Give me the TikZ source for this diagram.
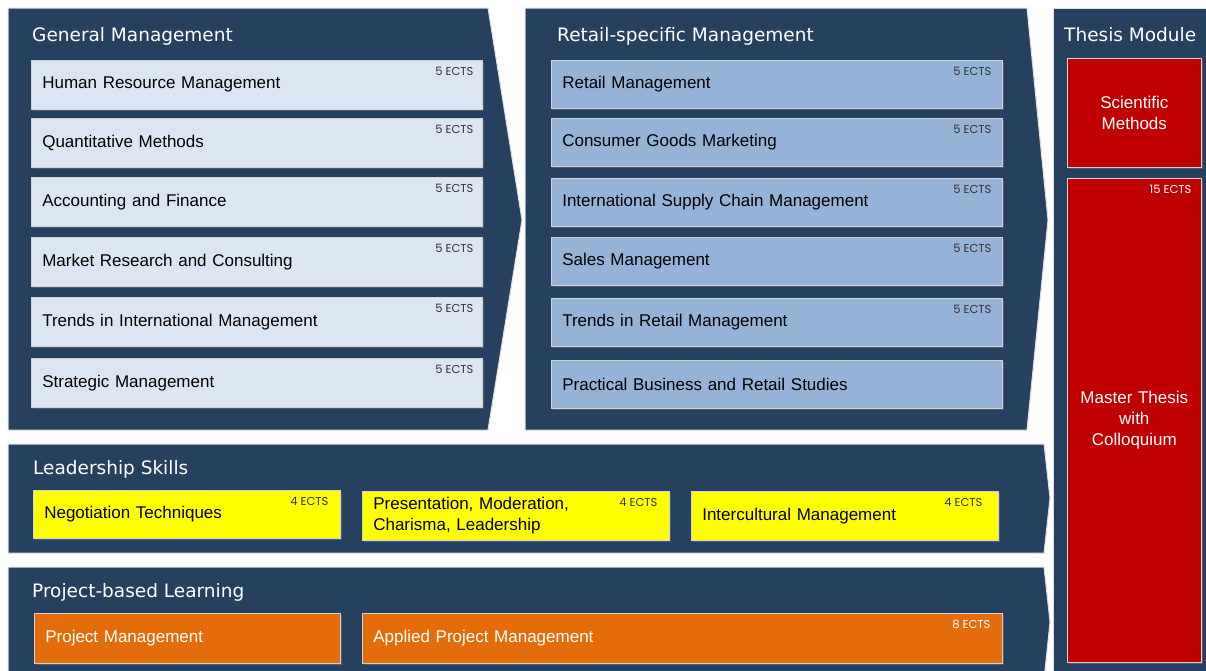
\documentclass[tikz,border=0pt]{standalone}
\usepackage{fontspec}
\setmainfont{Liberation Sans}
\newfontfamily\headfont{DejaVu Sans}
\newfontfamily\ectsfont{Poppins}
\usetikzlibrary{shadows}

\definecolor{navy}{RGB}{38,64,96}
\definecolor{gmblue}{RGB}{220,230,242}
\definecolor{retailblue}{RGB}{149,179,215}
\definecolor{skillyellow}{RGB}{255,255,0}
\definecolor{projorange}{RGB}{228,108,10}
\definecolor{thesisred}{RGB}{192,0,0}

\begin{document}
\begin{tikzpicture}
            [x=1pt, y=-1pt,
            panel/.style={fill=navy, draw=gray!25, line width=1pt},
            heading/.style={anchor=base west, text=white, inner sep=0, font=\headfont\fontsize{18.5}{22}\selectfont},
            course/.style={anchor=north west, draw=gray!35, line width=0.6pt, minimum height=49, inner xsep=11, inner ysep=0, align=left, text width=#1, font=\fontsize{17}{21}\selectfont, drop shadow={shadow xshift=1.5pt, shadow yshift=-1.5pt, opacity=0.45}},
            gm/.style={course=429pt, fill=gmblue},
            retail/.style={course=429pt, fill=retailblue, minimum height=48},
            skill/.style={course=285pt, fill=skillyellow},
            project/.style={course=#1, fill=projorange, text=white, minimum height=50},
            thesis/.style={course=112pt, fill=thesisred, text=white, align=center},
            ects/.style={anchor=north east, inner sep=0, text=black!80, font=\ectsfont\fontsize{11.5}{13}\selectfont}]

            \clip (0,0) rectangle (1206,670);
            \useasboundingbox (0,0) rectangle (1206,670);
            \fill[white] (0,0) rectangle (1206,670);

            % panels
            \draw[panel] (8,8) -- (488,8) -- (522,220) -- (488,430) -- (8,430) -- cycle;
            \draw[panel] (525,8) -- (1027,8) -- (1048,220) -- (1027,430) -- (525,430) -- cycle;
            \draw[panel] (1053,8) rectangle (1212,680);
            \draw[panel] (8,444) -- (1044,444) -- (1050,498) -- (1044,553) -- (8,553) -- cycle;
            \draw[panel] (8,567) -- (1044,567) -- (1050,622) -- (1044,680) -- (8,680) -- cycle;

            \node[heading] (gmtitle) at (32,41) {General Management};
            \node[heading] (rstitle) at (557,41) {Retail-specific Management};
            \node[heading] (thtitle) at (1064,41) {Thesis Module};
            \node[heading] (lstitle) at (33,474) {Leadership Skills};
            \node[heading] (pbtitle) at (32,597) {Project-based Learning};

            % general management
            \node[gm] (hrm) at (31,60) {Human Resource Management};
            \node[gm] (qm) at (31,118) {Quantitative Methods};
            \node[gm] (af) at (31,177) {Accounting and Finance};
            \node[gm] (mrc) at (31,237) {Market Research and Consulting};
            \node[gm] (tim) at (31,297) {Trends in International Management};
            \node[gm] (sm) at (31,358) {Strategic Management};

            \node[ects] at ([xshift=-9pt, yshift=-7pt]hrm.north east) {5 ECTS};
            \node[ects] at ([xshift=-9pt, yshift=-7pt]qm.north east) {5 ECTS};
            \node[ects] at ([xshift=-9pt, yshift=-7pt]af.north east) {5 ECTS};
            \node[ects] at ([xshift=-9pt, yshift=-7pt]mrc.north east) {5 ECTS};
            \node[ects] at ([xshift=-9pt, yshift=-7pt]tim.north east) {5 ECTS};
            \node[ects] at ([xshift=-9pt, yshift=-7pt]sm.north east) {5 ECTS};

            % retail-specific management
            \node[retail] (rm) at (551,60) {Retail Management};
            \node[retail] (cgm) at (551,118) {Consumer Goods Marketing};
            \node[retail] (iscm) at (551,178) {International Supply Chain Management};
            \node[retail] (sam) at (551,237) {Sales Management};
            \node[retail] (trm) at (551,298) {Trends in Retail Management};
            \node[retail] (pbrs) at (551,360) {Practical Business and Retail Studies};

            \node[ects] at ([xshift=-11pt, yshift=-7pt]rm.north east) {5 ECTS};
            \node[ects] at ([xshift=-11pt, yshift=-7pt]cgm.north east) {5 ECTS};
            \node[ects] at ([xshift=-11pt, yshift=-7pt]iscm.north east) {5 ECTS};
            \node[ects] at ([xshift=-11pt, yshift=-7pt]sam.north east) {5 ECTS};
            \node[ects] at ([xshift=-11pt, yshift=-7pt]trm.north east) {5 ECTS};

            % leadership skills
            \node[skill, minimum height=48] (nt) at (33,490) {Negotiation Techniques};
            \node[skill] (pmcl) at (362,491) {Presentation, Moderation,\\Charisma, Leadership};
            \node[skill] (im) at (691,491) {Intercultural Management};

            \node[ects] at ([xshift=-12pt, yshift=-7pt]nt.north east) {4 ECTS};
            \node[ects] at ([xshift=-12pt, yshift=-7pt]pmcl.north east) {4 ECTS};
            \node[ects] at ([xshift=-16pt, yshift=-7pt]im.north east) {4 ECTS};

            % project-based learning
            \node[project=284pt] (pm) at (34,613) {Project Management};
            \node[project=618pt] (apm) at (362,613) {Applied Project Management};

            \node[ects, text=white] at ([xshift=-12pt, yshift=-7pt]apm.north east) {8 ECTS};

            % thesis module
            \node[thesis, minimum height=109] (scm) at (1067,58) {Scientific\\Methods};
            \node[thesis, minimum height=484] (mt) at (1067,178) {Master Thesis\\with\\Colloquium};

            \node[ects, text=white] at ([xshift=-10pt, yshift=-7pt]mt.north east) {15 ECTS};

        \end{tikzpicture}
\end{document}
